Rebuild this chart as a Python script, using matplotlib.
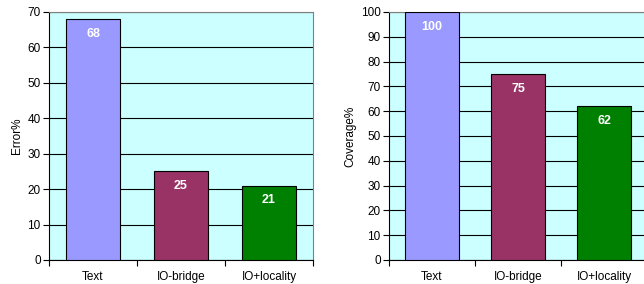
import matplotlib
matplotlib.use("Agg")
import matplotlib.pyplot as plt
import numpy as np

categories = ["Text", "IO-bridge", "IO+locality"]
error_values = [68, 25, 21]
coverage_values = [100, 75, 62]
bar_colors = ["#9999FF", "#993366", "#008000"]

plt.rcParams['font.family'] = ['Liberation Sans', 'DejaVu Sans']

W, H = 644, 284
fig = plt.figure(figsize=(W / 100, H / 100), dpi=100)

def make_ax(x0, x1, y0, y1):
    return fig.add_axes([x0 / W, (H - y1) / H, (x1 - x0) / W, (y1 - y0) / H])

def draw(ax, values, ymax, ylabel):
    ax.set_facecolor("#CCFFFF")
    x = np.arange(len(categories))
    ax.set_xlim(-0.5, len(categories) - 0.5)
    ax.set_ylim(0, ymax)
    ax.set_yticks(np.arange(0, ymax + 1, 10))
    ax.yaxis.grid(True, color="black", linewidth=0.8)
    ax.set_axisbelow(True)
    bars = ax.bar(x, values, width=0.62, color=bar_colors, edgecolor="black", linewidth=0.8, zorder=3)
    for b, v in zip(bars, values):
        ax.annotate(str(v), (b.get_x() + b.get_width() / 2, v), xytext=(0, -10.5),
                    textcoords="offset points", ha="center", va="center",
                    color="white", fontweight="bold", fontsize=9, zorder=4)
    ax.set_xticks(x)
    ax.set_xticklabels(categories)
    ax.set_xticks(np.arange(-0.5, len(categories), 1), minor=True)
    ax.tick_params(axis="x", which="major", length=0, labelsize=8.5, pad=8)
    ax.tick_params(axis="x", which="minor", length=4, width=0.8, direction="out")
    ax.tick_params(axis="y", length=4, width=0.8, direction="out", labelsize=8.5, pad=2)
    for s in ["top", "right"]:
        ax.spines[s].set_color("#808080")
        ax.spines[s].set_linewidth(0.8)
    for s in ["left", "bottom"]:
        ax.spines[s].set_color("black")
        ax.spines[s].set_linewidth(0.8)
    ax.set_ylabel(ylabel, fontsize=8.5, labelpad=3.5)

ax1 = make_ax(49, 313, 12, 260)
draw(ax1, error_values, 70, "Error%")

ax2 = make_ax(389, 647, 12, 260)
draw(ax2, coverage_values, 100, "Coverage%")

fig.savefig("out.png", dpi=100)
